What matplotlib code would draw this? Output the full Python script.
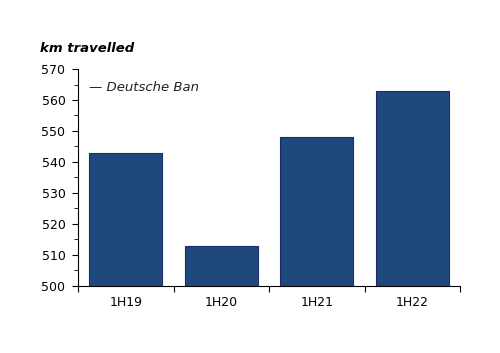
import matplotlib
matplotlib.use("Agg")
import matplotlib.pyplot as plt
from matplotlib.ticker import MultipleLocator

categories = ["1H19", "1H20", "1H21", "1H22"]
values = [543, 513, 548, 563]
series_name = "Deutsche Ban"
y_title = "km travelled"

fig = plt.figure(figsize=(5, 3.53), dpi=100)
ax = fig.add_axes([0.156, 0.19, 0.764, 0.6145])

x = list(range(len(categories)))
ax.bar(x, values, width=0.76, bottom=0, color="#1F497D", edgecolor="#1A2A6C", linewidth=0.8, zorder=2)
ax.set_xlim(-0.5, len(categories) - 0.5)
ax.set_ylim(500, 570)
ax.yaxis.set_major_locator(MultipleLocator(10))
ax.yaxis.set_minor_locator(MultipleLocator(5))

ax.set_xticks([i - 0.5 for i in range(len(categories) + 1)])
ax.set_xticklabels([])
ax.set_xticks(x, minor=True)
ax.set_xticklabels(categories, minor=True)
ax.tick_params(axis="x", which="minor", length=0, pad=7, labelsize=9)
ax.tick_params(axis="x", which="major", length=4, direction="out")
ax.tick_params(axis="y", which="major", length=4, direction="out", labelsize=9, pad=5)
ax.tick_params(axis="y", which="minor", length=3, direction="out")

for s in ["top", "right"]:
    ax.spines[s].set_visible(False)
ax.spines["left"].set_color("black")
ax.spines["bottom"].set_color("black")

ax.text(0.03, 0.915, "\u2014 " + series_name, transform=ax.transAxes, fontsize=9.5,
        style="italic", color="#222222", va="center", ha="left")
fig.text(0.08, 0.862, y_title, fontsize=9.5, fontweight="bold", style="italic", ha="left", va="center")

fig.savefig("out.png", dpi=100)
